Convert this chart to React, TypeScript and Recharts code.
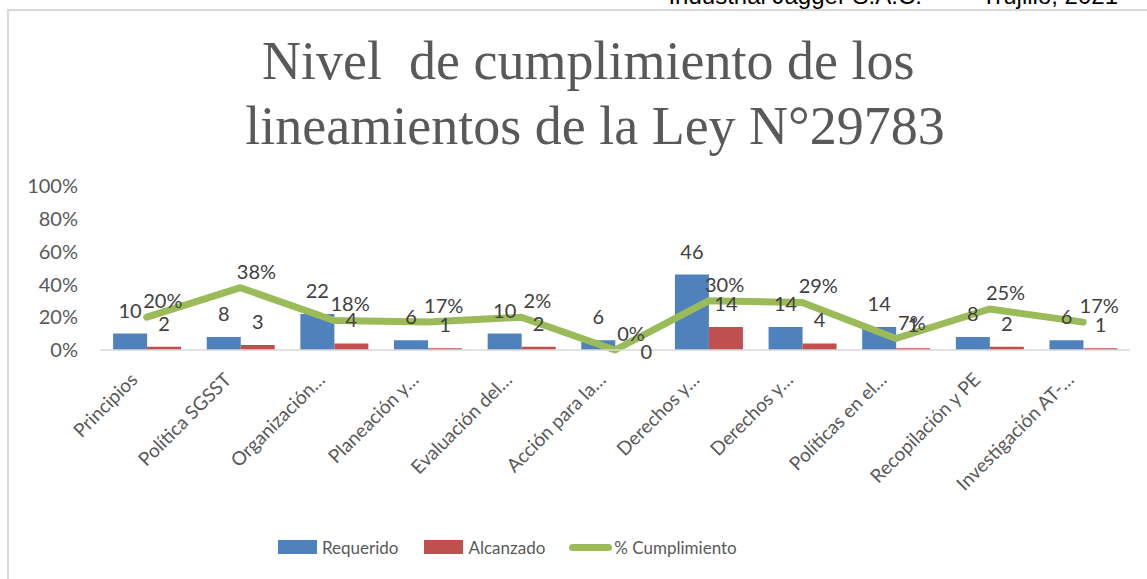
import React from 'react';
import { ComposedChart, Bar, Line, XAxis, YAxis, Legend, LabelList } from 'recharts';

const categories = [
    'Principios',
    'Política SGSST',
    'Organización…',
    'Planeación y…',
    'Evaluación del…',
    'Acción para la…',
    'Derechos y…',
    'Derechos y…',
    'Políticas en el…',
    'Recopilación y PE',
    'Investigación AT-…',
];
const requerido = [10, 8, 22, 6, 10, 6, 46, 14, 14, 8, 6];
const alcanzado = [2, 3, 4, 1, 2, 0, 14, 4, 1, 2, 1];
const cumplimiento = [20, 38, 18, 17, 20, 0, 30, 29, 7, 25, 17];
const cumplimientoLabels = ['20%', '38%', '18%', '17%', '2%', '0%', '30%', '29%', '7%', '25%', '17%'];
const yTicks = [0, 20, 40, 60, 80, 100];

const chartData = categories.map((name, i) => ({
    name,
    requerido: requerido[i],
    alcanzado: alcanzado[i],
    cumplimiento: cumplimiento[i],
    pct: cumplimientoLabels[i],
}));

const BLUE = '#4f81bd';
const RED = '#c0504d';
const GREEN = '#9bbb59';
const GREY = '#595959';
const FONT = 'Lato, "Open Sans", sans-serif';

const CategoryTick = (props: any) => {
    const { x, y, payload } = props;
    const ax = x - 8;
    const ay = y + 29;
    return (
        <text
            x={ax}
            y={ay}
            transform={`rotate(-45 ${ax} ${ay})`}
            textAnchor="end"
            fill={GREY}
            fontSize={19}
            fontFamily={FONT}>
            {payload.value}
        </text>
    );
};

const PctLabel = (props: any) => {
    const { x, y, value } = props;
    return (
        <text x={x + 16} y={y - 17} textAnchor="middle" dominantBaseline="central" fill="#404040" fontSize={20} fontFamily={FONT}>
            {value}
        </text>
    );
};

// zero-height bars keep their label, Excel drops it on the axis
const AlcanzadoLabel = (props: any) => {
    const { x, y, width, value } = props;
    const zero = Number(value) === 0;
    return (
        <text
            x={x + width / 2 + (zero ? 14 : 0)}
            y={zero ? y + 9 : y - 16}
            textAnchor="middle"
            fill="#404040"
            fontSize={20}
            fontFamily={FONT}>
            {value}
        </text>
    );
};

const renderLegend = () => (
    <div style={{ display: 'flex', alignItems: 'center', paddingLeft: 278, height: 30, fontFamily: FONT, fontSize: 17, color: GREY }}>
        <span style={{ width: 39, height: 14, background: BLUE, marginRight: 5 }} />
        <span style={{ marginRight: 26 }}>Requerido</span>
        <span style={{ width: 39, height: 14, background: RED, marginRight: 5 }} />
        <span style={{ marginRight: 24 }}>Alcanzado</span>
        <span style={{ width: 43, height: 7, borderRadius: 4, background: GREEN, marginRight: 2 }} />
        <span>% Cumplimiento</span>
    </div>
);

const App = () => {
    return (
        <div style={{ position: 'absolute', left: 0, top: 0, width: 1147, height: 579, overflow: 'hidden', background: '#fff' }}>
            <div
                style={{
                    position: 'absolute',
                    right: 29,
                    top: -16,
                    fontFamily: '"Liberation Sans", Arial, sans-serif',
                    fontSize: 24,
                    lineHeight: '24px',
                    color: '#000',
                    whiteSpace: 'pre',
                }}>
                Industrial Jagger S.A.C.     –  Trujillo, 2021
            </div>
            <div
                style={{
                    position: 'absolute',
                    left: 7,
                    top: 9,
                    width: 1145,
                    height: 580,
                    borderLeft: '2px solid #d9d9d9',
                    borderTop: '2px solid #d9d9d9',
                }}
            />
            <div
                style={{
                    position: 'absolute',
                    left: 0,
                    top: 29,
                    width: 1190,
                    textAlign: 'center',
                    fontFamily: '"Liberation Serif", serif',
                    fontSize: 54,
                    lineHeight: '65px',
                    color: GREY,
                    whiteSpace: 'pre',
                }}>
                {'Nivel  de cumplimiento de los \nlineamientos de la Ley N°29783'}
            </div>
            <div style={{ position: 'absolute', left: 0, top: 0 }}>
                <ComposedChart
                    width={1147}
                    height={579}
                    data={chartData}
                    margin={{ top: 186, right: 17, left: 0, bottom: 17 }}
                    barGap={0}
                    barCategoryGap="14%">
                    <XAxis
                        dataKey="name"
                        interval={0}
                        height={182}
                        tickLine={false}
                        tickSize={0}
                        axisLine={{ stroke: '#d9d9d9', strokeWidth: 1.5 }}
                        tick={<CategoryTick />}
                    />
                    <YAxis
                        width={100}
                        domain={[0, 100]}
                        ticks={yTicks}
                        tickFormatter={(v: number) => `${v}%`}
                        axisLine={false}
                        tickLine={false}
                        tickSize={0}
                        tickMargin={22}
                        tick={{ fill: GREY, fontSize: 20, fontFamily: FONT }}
                    />
                    <Legend verticalAlign="bottom" height={30} content={renderLegend} />
                    <Bar dataKey="requerido" name="Requerido" fill={BLUE} isAnimationActive={false}>
                        <LabelList dataKey="requerido" position="top" offset={16} fill="#404040" fontSize={20} fontFamily={FONT} />
                    </Bar>
                    <Bar dataKey="alcanzado" name="Alcanzado" fill={RED} minPointSize={0.1} isAnimationActive={false}>
                        <LabelList dataKey="alcanzado" content={<AlcanzadoLabel />} />
                    </Bar>
                    <Line
                        type="linear"
                        dataKey="cumplimiento"
                        name="% Cumplimiento"
                        stroke={GREEN}
                        strokeWidth={7}
                        strokeLinecap="round"
                        strokeLinejoin="round"
                        dot={false}
                        activeDot={false}
                        isAnimationActive={false}>
                        <LabelList dataKey="pct" content={<PctLabel />} />
                    </Line>
                </ComposedChart>
            </div>
        </div>
    );
};

export default App;
